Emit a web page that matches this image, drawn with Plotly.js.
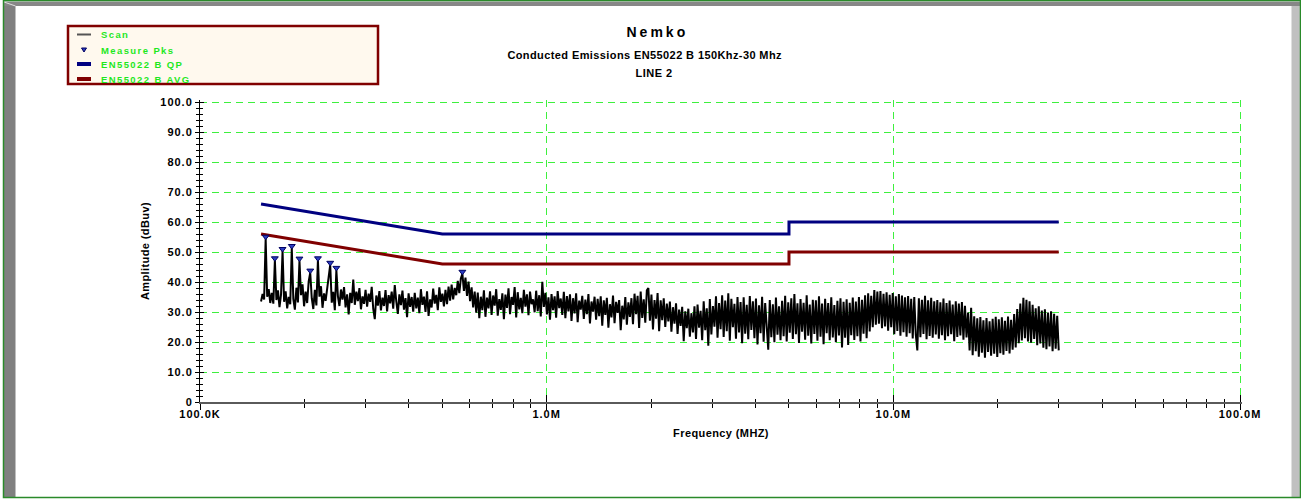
<!DOCTYPE html>
<html>
<head>
<meta charset="utf-8">
<script src="https://cdn.plot.ly/plotly-3.0.1.min.js"></script>
<style>
html,body{margin:0;padding:0;background:#fff;overflow:hidden;}
#chart{width:1301px;height:500px;}
</style>
</head>
<body>
<div id="chart"></div>
<script>
// ---------------- DATA ----------------
const scanStartHz = 150e3;
const scanStopHz = 30e6;
// Scan amplitudes (dBuV), low -> high frequency (log sweep)
const scanAmp = [
 33.5,36.0,34.2,54.4,35.1,37.6,33.0,36.4,32.8,47.2,34.0,37.2,31.6,35.8,50.3,33.4,36.9,31.2,35.0,32.6,
 51.3,34.4,30.8,38.1,33.2,47.1,35.6,39.2,31.9,36.8,33.0,40.2,43.1,34.6,31.0,37.4,32.2,47.2,35.1,38.6,
 31.4,36.2,33.7,37.9,41.0,45.7,33.1,36.7,30.6,44.0,35.3,32.0,37.5,34.1,38.3,31.5,35.9,29.2,36.4,33.0,
 40.8,32.4,36.8,33.6,38.0,30.9,35.2,32.7,37.4,31.8,36.1,33.4,38.4,31.0,27.6,35.5,32.1,37.0,30.5,34.8,
 32.0,37.3,30.2,35.6,32.9,36.8,31.1,39.0,33.5,29.4,35.9,32.3,37.1,30.8,34.6,28.3,36.2,31.7,35.0,30.1,
 36.4,31.2,34.8,29.6,37.6,32.4,35.1,30.0,36.9,28.7,34.2,31.5,37.8,32.8,35.7,30.6,38.2,33.4,36.1,31.9,
 37.4,32.6,38.5,33.8,39.1,34.2,38.0,35.6,40.4,36.3,41.2,42.7,37.0,41.5,35.4,40.1,33.6,38.2,31.5,36.8,
 29.8,36.5,27.9,35.1,30.6,37.2,28.4,34.8,31.2,36.9,29.0,35.5,32.1,37.6,28.8,34.3,30.7,36.2,27.6,35.8,
 31.4,37.9,29.3,35.0,32.4,38.3,28.2,36.6,30.9,34.7,29.6,37.4,31.8,35.9,28.9,36.8,32.6,34.2,29.9,37.1,
 30.3,35.6,28.5,40.1,31.7,36.4,29.2,34.9,27.4,36.0,30.6,35.2,28.1,37.0,31.3,34.5,29.0,36.7,27.9,35.3,
 30.2,35.9,27.0,34.6,29.5,36.2,26.6,33.8,30.8,35.4,27.7,34.1,29.3,36.0,26.2,33.5,30.1,35.1,27.4,34.4,
 28.6,35.2,25.4,33.9,29.0,34.7,24.8,32.6,28.2,35.5,26.3,33.4,29.7,34.0,23.9,32.1,27.5,35.0,25.8,33.2,
 28.4,34.6,25.9,36.1,29.3,35.4,24.7,36.8,28.0,34.2,26.4,37.2,38.0,27.1,35.8,24.2,34.0,27.8,36.3,23.6,
 33.9,27.3,34.6,25.0,32.8,26.9,33.5,23.4,31.6,26.1,32.9,22.7,30.8,25.4,31.7,20.3,30.2,24.6,31.1,21.8,
 29.6,23.2,31.9,21.0,32.5,24.8,30.4,20.6,33.6,23.9,31.2,18.8,34.3,22.5,32.0,25.1,35.2,21.4,33.0,24.3,
 35.6,21.7,33.8,23.6,36.2,20.4,34.4,24.9,32.7,21.1,35.0,23.2,33.3,19.6,34.9,22.8,32.4,20.9,35.3,24.0,
 33.6,21.3,34.5,19.2,32.2,22.9,35.1,20.1,33.0,23.7,17.4,34.0,21.6,32.6,19.9,34.8,22.4,31.9,20.6,33.7,
 21.9,35.4,20.2,33.2,23.1,34.6,21.0,36.0,22.6,32.9,19.7,34.3,23.4,33.1,20.8,35.6,22.1,32.5,19.5,34.1,
 22.7,33.9,20.4,35.2,21.8,32.8,19.3,34.4,22.9,33.0,20.6,34.9,21.5,32.3,19.9,33.7,22.2,34.6,18.2,33.4,
 21.4,34.2,19.0,33.1,22.3,34.8,20.7,33.5,21.9,35.0,20.2,34.1,22.8,35.6,21.3,36.2,23.5,35.4,24.9,37.3,
 25.8,36.8,26.1,37.0,24.6,36.1,25.2,36.6,23.8,35.7,24.9,36.3,22.6,35.2,23.7,36.0,22.1,35.5,23.3,34.9,
 21.8,35.3,22.9,34.4,21.2,35.0,22.4,17.2,34.6,21.6,34.1,22.7,35.4,20.9,33.9,22.0,34.7,21.4,33.6,22.5,
 34.0,21.1,33.2,22.3,34.5,20.6,33.0,21.9,33.8,22.6,32.5,20.3,33.6,21.7,32.8,22.2,33.3,20.8,32.1,21.5,
 29.8,17.2,31.4,15.6,28.6,16.9,27.9,15.1,28.3,16.4,27.2,14.8,28.0,16.7,26.9,15.4,27.7,16.1,28.4,15.0,
 27.6,16.3,28.2,15.8,27.1,17.0,28.5,16.2,27.4,17.4,29.3,18.2,31.0,19.6,32.8,20.5,34.7,21.3,34.1,20.2,
 33.6,19.8,32.4,21.0,31.2,18.9,31.9,19.5,30.5,18.1,30.9,17.6,29.8,18.5,30.2,16.9,29.4,17.8,28.7,17.2
];
// Measured peaks
const pkFreq = [154.7e3, 164.4e3, 173.0e3, 184.0e3, 193.6e3, 208.0e3, 218.9e3, 237.5e3, 247.4e3, 571.3e3];
const pkAmp  = [55.1, 47.9, 51.0, 52.0, 47.8, 43.8, 47.9, 46.4, 44.7, 43.4];
// EN55022 class B limits
const limitFreq = [150e3, 500e3, 5e6, 5e6, 30e6];
const qpAmp  = [66, 56, 56, 60, 60];
const avgAmp = [56, 46, 46, 50, 50];
// Tick labels
const xTickVals = [1e5, 1e6, 1e7, 1e8];
const xTickText = ['100.0K', '1.0M', '10.0M', '100.0M'];
const yTickVals = [0, 10, 20, 30, 40, 50, 60, 70, 80, 90, 100];
const yTickText = ['0', '10.0', '20.0', '30.0', '40.0', '50.0', '60.0', '70.0', '80.0', '90.0', '100.0'];
const seriesNames = ['Scan', 'Measure Pks', 'EN55022 B QP', 'EN55022 B AVG'];
const titleMain = 'Nemko';
const titleSub = 'Conducted Emissions EN55022 B 150Khz-30 Mhz';
const titleLine = 'LINE 2';

// ---------------- BUILD ----------------
const scanFreq = scanAmp.map((_, i) =>
  scanStartHz * Math.pow(scanStopHz / scanStartHz, i / (scanAmp.length - 1)));

const minorX = [];
[1e5, 1e6, 1e7].forEach(d => { for (let k = 2; k <= 9; k++) minorX.push(k * d); });

const W = 1301, H = 500;
// plot frame in pixels: 100K at x=200, 100M at x=1240; 0 dB at y=402, 100 dB at y=102
const X0 = 200, X1 = 1240, Y0 = 402, Y1 = 102;
const xPad = 0.006, yPad = 0.6;                   // small pad so edge gridlines are kept
const decPx = (X1 - X0) / 3, dbPx = (Y0 - Y1) / 100;
const M = {l: X0, r: Math.round(W - (X1 + xPad * decPx)), t: Math.round(Y1 - yPad * dbPx), b: H - Y0};
const PW = W - M.l - M.r, PH = H - M.t - M.b;
const px = x => (x - M.l) / PW;
const py = y => (H - M.b - y) / PH;
const xRange = [5, 5 + PW / decPx];
const yRange = [0, PH / dbPx];

const FONT = 'Arial, "Liberation Sans", sans-serif';
const GRID = '#3ef03e';

const traces = [
  {x: limitFreq, y: qpAmp, name: seriesNames[2], type: 'scatter', mode: 'lines',
   line: {color: '#000080', width: 3}, showlegend: false, hoverinfo: 'skip'},
  {x: limitFreq, y: avgAmp, name: seriesNames[3], type: 'scatter', mode: 'lines',
   line: {color: '#800000', width: 3}, showlegend: false, hoverinfo: 'skip'},
  {x: scanFreq, y: scanAmp, name: seriesNames[0], type: 'scatter', mode: 'lines',
   line: {color: '#000000', width: 2}, showlegend: false, hoverinfo: 'skip'},
  {x: pkFreq, y: pkAmp, name: seriesNames[1], type: 'scatter', mode: 'markers',
   marker: {symbol: 'triangle-down', size: 6, color: '#2a3cc0', line: {color: '#000060', width: 1}},
   showlegend: false, hoverinfo: 'skip'},
  {x: [], y: [], xaxis: 'x2', yaxis: 'y2', type: 'scatter', showlegend: false, hoverinfo: 'skip'}
];

const shapes = [
  // outer frame
  {type: 'rect', xref: 'paper', yref: 'paper', x0: px(4), x1: px(15.5), y0: py(2), y1: py(497),
   fillcolor: '#808080', line: {width: 0}},
  {type: 'rect', xref: 'paper', yref: 'paper', x0: px(4), x1: px(1300), y0: py(1.5), y1: py(6),
   fillcolor: '#878787', line: {width: 0}},
  {type: 'rect', xref: 'paper', yref: 'paper', x0: px(1291.5), x1: px(1300), y0: py(6), y1: py(497),
   fillcolor: '#c0c0c0', line: {width: 0}},
  {type: 'line', xref: 'paper', yref: 'paper', x0: px(4), x1: px(15.5), y0: py(2), y1: py(6),
   line: {color: '#e0e0e0', width: 1}},
  {type: 'rect', xref: 'paper', yref: 'paper', x0: px(3.5), x1: px(1300.5), y0: py(0.5), y1: py(497.5),
   line: {color: '#2a8a2a', width: 1.5}},
  // legend box
  {type: 'rect', xref: 'paper', yref: 'paper', x0: px(68), x1: px(378), y0: py(26), y1: py(84),
   fillcolor: '#fff9ee', line: {color: '#800000', width: 2.5}},
  {type: 'line', xref: 'paper', yref: 'paper', x0: px(77), x1: px(91), y0: py(34.5), y1: py(34.5),
   line: {color: '#555555', width: 2}},
  {type: 'path', xref: 'paper', yref: 'paper',
   path: 'M' + px(81.5) + ',' + py(48) + ' L' + px(86.5) + ',' + py(48) + ' L' + px(84) + ',' + py(52) + ' Z',
   fillcolor: '#2a3cc0', line: {color: '#000060', width: 1}},
  {type: 'line', xref: 'paper', yref: 'paper', x0: px(77), x1: px(91), y0: py(64), y1: py(64),
   line: {color: '#000080', width: 4}},
  {type: 'line', xref: 'paper', yref: 'paper', x0: px(77), x1: px(91), y0: py(79), y1: py(79),
   line: {color: '#800000', width: 4}}
];

const ann = (text, x, y, size, color, xanchor, ls) => ({
  text, x: px(x), y: py(y), xref: 'paper', yref: 'paper', showarrow: false,
  xanchor, yanchor: 'middle', align: xanchor === 'left' ? 'left' : 'center',
  font: {family: FONT, size, color, weight: 'bold'}, _ls: ls
});
const annList = [
  ann(titleMain, 657, 32, 14, '#000', 'center', 3),
  ann(titleSub, 645, 54.5, 11, '#000', 'center', 0.4),
  ann(titleLine, 654, 73, 11, '#000', 'center', 0.5),
  ann(seriesNames[0], 99, 34.5, 9.5, '#1ee81e', 'left', 1.4),
  ann(seriesNames[1], 99, 50, 9.5, '#1ee81e', 'left', 1.4),
  ann(seriesNames[2], 99, 64.5, 9.5, '#1ee81e', 'left', 1.4),
  ann(seriesNames[3], 99, 79.5, 9.5, '#1ee81e', 'left', 1.4)
];
const spacings = annList.map(a => a._ls);
annList.forEach(a => delete a._ls);

const tickFont = {family: FONT, size: 11, color: '#000', weight: 'bold'};

const layout = {
  width: W, height: H,
  margin: M,
  paper_bgcolor: '#ffffff', plot_bgcolor: '#ffffff',
  showlegend: false,
  font: {family: FONT, color: '#000'},
  xaxis: {
    type: 'log', range: xRange, fixedrange: true,
    tickmode: 'array', tickvals: xTickVals, ticktext: xTickText,
    ticks: 'outside', ticklen: 6, tickwidth: 1, tickcolor: '#000',
    ticklabelstandoff: -5,
    showline: true, linecolor: '#5a5a5a', linewidth: 2,
    showgrid: true, gridcolor: GRID, gridwidth: 1, griddash: '7px,5px',
    zeroline: false, tickfont: tickFont,
    minor: {tickmode: 'array', tickvals: minorX, ticks: 'outside', ticklen: 4, tickcolor: '#000', showgrid: false},
    title: {text: 'Frequency (MHZ)', font: {family: FONT, size: 11, color: '#000', weight: 'bold'}, standoff: 10}
  },
  yaxis: {
    range: yRange, fixedrange: true,
    tickmode: 'array', tickvals: yTickVals, ticktext: yTickText,
    ticks: 'outside', ticklen: 4, tickwidth: 1, tickcolor: '#000',
    showline: true, linecolor: '#000', linewidth: 1,
    showgrid: true, gridcolor: GRID, gridwidth: 1, griddash: '7px,5px',
    zeroline: false, tickfont: tickFont,
    minor: {tickmode: 'linear', tick0: 0, dtick: 2, ticks: 'outside', ticklen: 3, tickcolor: '#000', showgrid: false},
    title: {text: 'Amplitude (dBuv)', font: {family: FONT, size: 11, color: '#000', weight: 'bold'}, standoff: 13}
  },
  xaxis2: {
    type: 'log', range: xRange, overlaying: 'x', anchor: 'y2', side: 'bottom', fixedrange: true,
    tickmode: 'array', tickvals: xTickVals, ticks: 'inside', ticklen: 7, tickcolor: '#000',
    showticklabels: false, showgrid: false, showline: false, zeroline: false,
    minor: {tickmode: 'array', tickvals: minorX, ticks: 'inside', ticklen: 3, tickcolor: '#000', showgrid: false}
  },
  yaxis2: {
    range: yRange, overlaying: 'y', anchor: 'x2', side: 'left', fixedrange: true,
    tickmode: 'array', tickvals: yTickVals, ticks: 'inside', ticklen: 4, tickcolor: '#000',
    showticklabels: false, showgrid: false, showline: false, zeroline: false,
    minor: {tickmode: 'linear', tick0: 0, dtick: 2, ticks: 'inside', ticklen: 3, tickcolor: '#000', showgrid: false}
  },
  shapes: shapes,
  annotations: annList
};

Plotly.newPlot('chart', traces, layout, {staticPlot: true, displayModeBar: false}).then(gd => {
  gd.querySelectorAll('.annotation').forEach((g, i) => {
    const idx = parseInt(g.getAttribute('data-index'), 10);
    const ls = spacings[isNaN(idx) ? i : idx];
    if (ls) g.querySelectorAll('text').forEach(t => t.style.letterSpacing = ls + 'px');
  });
  gd.querySelectorAll('.xtick text, .ytick text').forEach(t => t.style.letterSpacing = '1px');
  gd.querySelectorAll('.xtitle, .ytitle').forEach(t => t.style.letterSpacing = '0.4px');
});
</script>
</body>
</html>
